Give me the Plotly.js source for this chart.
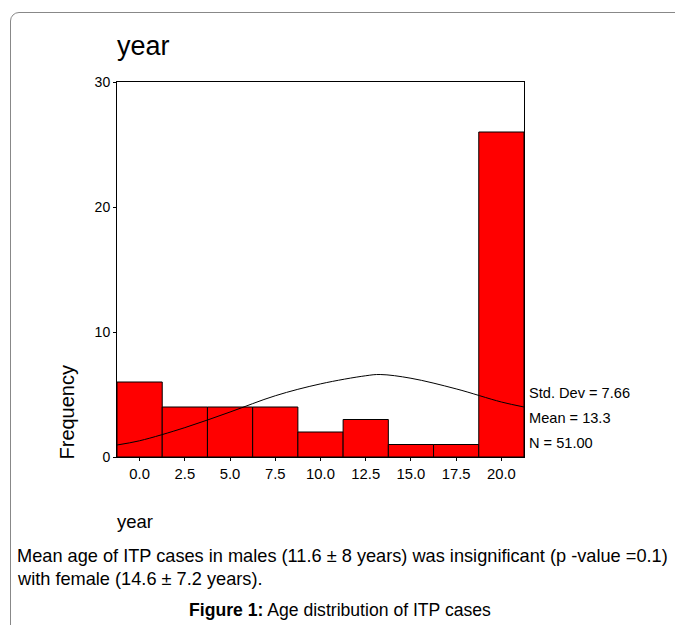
<!DOCTYPE html>
<html>
<head>
<meta charset="utf-8">
<script src="https://cdn.plot.ly/plotly-3.0.1.min.js"></script>
<style>
  html, body { margin: 0; padding: 0; background: #fff; overflow: hidden; }
  #frame { position: absolute; left: 10px; top: 12px; width: 720px; height: 700px;
           border: 1px solid #888; border-radius: 9px; }
  #chart { position: absolute; left: 0; top: 0; width: 675px; height: 625px; }
</style>
</head>
<body>
<div id="frame"></div>
<div id="chart"></div>
<script>
// Histogram bins (bin centers, years) and counts
const binCenters = [0.0, 2.5, 5.0, 7.5, 10.0, 12.5, 15.0, 17.5, 20.0];
const counts = [6, 4, 4, 4, 2, 3, 1, 1, 26];
const binWidth = 2.5;

// Fitted normal curve
const curveX = [-1.25, 0.0, 2.5, 5.0, 7.5, 10.0, 12.5, 13.3, 15.0, 17.5, 20.0, 21.25];
const curveY = [0.96, 1.3, 2.35, 3.6, 4.9, 5.85, 6.5, 6.6, 6.3, 5.45, 4.4, 4.0];

const tickVals = [0.0, 2.5, 5.0, 7.5, 10.0, 12.5, 15.0, 17.5, 20.0];
const tickText = ["0.0", "2.5", "5.0", "7.5", "10.0", "12.5", "15.0", "17.5", "20.0"];
const statLines = ["Std. Dev = 7.66", "Mean = 13.3", "N = 51.00"];

const font = "Liberation Sans, Arial, sans-serif";

const traces = [
  {
    type: "bar", x: binCenters, y: counts, width: binWidth,
    marker: { color: "#ff0000", line: { color: "#000", width: 1 } },
    hoverinfo: "skip", showlegend: false
  },
  {
    type: "scatter", mode: "lines", x: curveX, y: curveY, line: { color: "#000", width: 1, shape: "spline" },
    hoverinfo: "skip", showlegend: false
  }
];

const annotations = [
  { text: "year", xref: "paper", yref: "paper", x: 0, y: 1, xanchor: "left", yanchor: "bottom",
    yshift: 19, xshift: -2, showarrow: false, font: { family: font, size: 27, color: "#000" } },
  { text: "Frequency", xref: "paper", yref: "paper", x: 0, y: 0, xanchor: "center", yanchor: "bottom",
    xshift: -51, yshift: -5, textangle: -90, showarrow: false, font: { family: font, size: 20, color: "#000" } },
  { text: "year", xref: "paper", yref: "paper", x: 0, y: 0, xanchor: "left", yanchor: "top",
    yshift: -52, xshift: -2, showarrow: false, font: { family: font, size: 18.5, color: "#000" } },
  { text: "Mean age of ITP cases in males (11.6 ± 8 years) was insignificant (p -value =0.1)", xref: "paper", yref: "paper",
    x: 0, y: 0, xanchor: "left", yanchor: "middle", xshift: -102, yshift: -99, align: "left",
    showarrow: false, font: { family: font, size: 18.2, color: "#000" } },
  { text: "with female (14.6 ± 7.2 years).", xref: "paper", yref: "paper",
    x: 0, y: 0, xanchor: "left", yanchor: "middle", xshift: -102, yshift: -122, align: "left",
    showarrow: false, font: { family: font, size: 18.2, color: "#000" } },
  { text: "<b>Figure 1:</b> Age distribution of ITP cases", xref: "paper", yref: "paper",
    x: 0, y: 0, xanchor: "center", yanchor: "middle", xshift: 223, yshift: -153,
    showarrow: false, font: { family: font, size: 17.6, color: "#000" } }
];
statLines.forEach((s, i) => {
  annotations.push({ text: s, xref: "paper", yref: "paper", x: 1, y: 0, xanchor: "left", yanchor: "middle",
    xshift: 3, yshift: 64 - i * 25, showarrow: false, font: { family: font, size: 14.6, color: "#000" } });
});

const layout = {
  width: 675, height: 625,
  margin: { l: 117, r: 151, t: 82, b: 168 },
  paper_bgcolor: "rgba(0,0,0,0)", plot_bgcolor: "#fff",
  bargap: 0,
  xaxis: {
    range: [-1.25, 21.25], tickmode: "array", tickvals: tickVals, ticktext: tickText,
    ticks: "outside", ticklen: 3, tickcolor: "#000", showgrid: false, zeroline: false,
    showline: true, mirror: true, linecolor: "#000", linewidth: 1,
    tickfont: { family: font, size: 14.8, color: "#000" }
  },
  yaxis: {
    range: [0, 30], tickvals: [0, 10, 20, 30], ticks: "outside", ticklen: 3, tickcolor: "#000",
    showgrid: false, zeroline: false, showline: true, mirror: true, linecolor: "#000", linewidth: 1,
    tickfont: { family: font, size: 14, color: "#000" }
  },
  annotations: annotations
};

Plotly.newPlot("chart", traces, layout, { displayModeBar: false, staticPlot: true });
</script>
</body>
</html>
